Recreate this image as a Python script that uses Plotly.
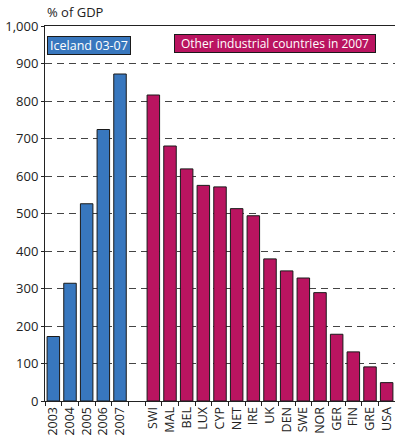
import plotly.graph_objects as go

iceland_years = ["2003", "2004", "2005", "2006", "2007"]
iceland_values = [172, 314, 526, 724, 872]

countries = ["SWI", "MAL", "BEL", "LUX", "CYP", "NET", "IRE", "UK", "DEN",
             "SWE", "NOR", "GER", "FIN", "GRE", "USA"]
country_values = [816, 680, 619, 575, 571, 513, 494, 379, 347, 328, 289, 178, 131, 91, 49]

gap = [" "]
y_ticks = [0, 100, 200, 300, 400, 500, 600, 700, 800, 900, 1000]

BLUE = "#3877BE"
MAGENTA = "#BA1460"
FONT = "Open Sans, Noto Sans, sans-serif"

categories = iceland_years + gap + countries

fig = go.Figure()
fig.add_trace(go.Bar(x=iceland_years, y=iceland_values, marker=dict(color=BLUE, line=dict(color="#1a1a1a", width=1)),
                     showlegend=False))
fig.add_trace(go.Bar(x=countries, y=country_values, marker=dict(color=MAGENTA, line=dict(color="#1a1a1a", width=1)),
                     showlegend=False))

fig.update_layout(
    width=395, height=438,
    margin=dict(l=45, r=0, t=26, b=37),
    paper_bgcolor="white", plot_bgcolor="white",
    barmode="overlay", bargap=0.25,
    font=dict(family=FONT, size=12, color="#222"),
    xaxis=dict(
        type="category",
        categoryorder="array",
        categoryarray=categories,
        range=[-0.5, len(categories) - 0.5],
        tickangle=-90,
        ticks="outside", tickson="boundaries", ticklen=4, tickcolor="#222",
        showline=True, linecolor="#222", linewidth=1, mirror=True,
        tickfont=dict(size=12.5, color="#222"),
        showgrid=False,
        automargin=False,
    ),
    yaxis=dict(
        range=[0, 1000],
        tickvals=y_ticks,
        tickformat=",",
        ticks="outside", ticklen=3, tickcolor="#222",
        showline=True, linecolor="#222", linewidth=1,
        showgrid=True, gridcolor="#444", griddash="7px,5px", gridwidth=1,
        zeroline=False,
        tickfont=dict(size=13, color="#222"),
        automargin=False,
    ),
    annotations=[
        dict(text="% of GDP", xref="paper", yref="paper", x=0, y=1, yshift=3,
             xanchor="left", yanchor="bottom", showarrow=False,
             font=dict(size=13, color="#222")),
        dict(text="Iceland 03-07", xref="paper", yref="paper", x=0.006, y=0.973,
             xanchor="left", yanchor="top", showarrow=False,
             width=82, height=17, align="center",
             bgcolor=BLUE, bordercolor="#1a1a1a", borderwidth=1, borderpad=0,
             font=dict(size=12.5, color="white")),
        dict(text="Other industrial countries in 2007", xref="paper", yref="paper", x=0.369, y=0.979,
             xanchor="left", yanchor="top", showarrow=False,
             width=200, height=17, align="center",
             bgcolor=MAGENTA, bordercolor="#1a1a1a", borderwidth=1, borderpad=0,
             font=dict(size=12, color="white")),
    ],
)

fig.write_html("out.html", config={"displayModeBar": False},
               post_script="document.body.style.margin='0';document.body.style.overflow='hidden';")
